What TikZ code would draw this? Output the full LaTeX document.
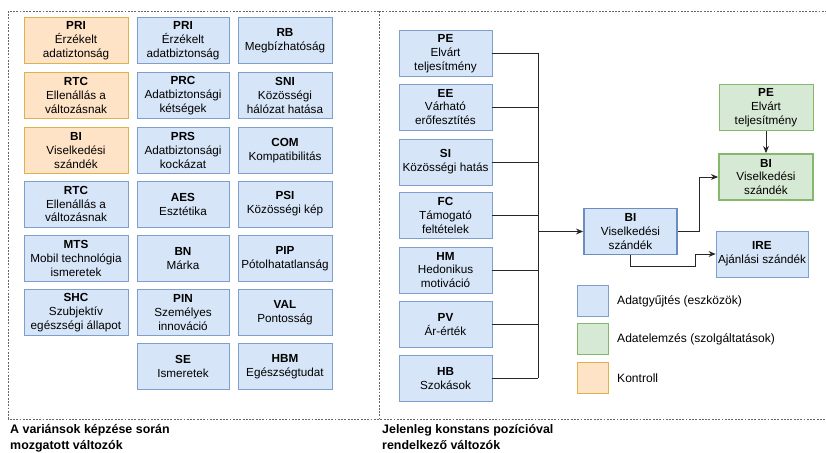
\documentclass[tikz,border=0pt]{standalone}
\usepackage{fontspec}
\setmainfont{Liberation Sans}
\usetikzlibrary{arrows.meta,positioning}

\definecolor{blueFill}{HTML}{D6E5F7}
\definecolor{blueLine}{HTML}{7E9FCB}
\definecolor{blueDark}{HTML}{6C8EBF}
\definecolor{orangeFill}{HTML}{FFE3C6}
\definecolor{orangeLine}{HTML}{E0B24E}
\definecolor{greenFill}{HTML}{D6E9D4}
\definecolor{greenLine}{HTML}{86B86C}
\definecolor{frameGray}{HTML}{666666}

\begin{document}
\begin{tikzpicture}[x=0.03cm, y=-0.03cm, >={Stealth[length=6pt,width=5pt]},
    box/.style={draw=blueLine, fill=blueFill, align=center, inner sep=0pt,
        minimum height=1.38cm, line width=0.6pt,
        font=\fontsize{10}{11.9}\selectfont},
    ctrl/.style={box, draw=orangeLine, fill=orangeFill},
    anal/.style={box, draw=greenLine, fill=greenFill},
    colA/.style={minimum width=3.12cm},
    colB/.style={minimum width=2.76cm},
    colC/.style={minimum width=2.82cm},
    colR/.style={minimum width=2.79cm},
    frame/.style={frameGray, line width=0.6pt, dash pattern=on 1.6pt off 1.2pt},
    caption/.style={align=left, inner sep=0pt, font=\fontsize{10.6}{14.2}\selectfont\bfseries},
    legbox/.style={draw=#1Line, fill=#1Fill, minimum width=0.93cm, minimum height=0.95cm,
        inner sep=0pt, line width=0.6pt},
    legtext/.style={anchor=west, inner sep=0pt, font=\fontsize{10.3}{12}\selectfont},
    link/.style={line width=0.7pt, black!85}]
    \useasboundingbox (0,0) rectangle (826,453);

    % frames
    \draw[frame] (379,11) -- (8,11) -- (8,419) -- (826,419);
    \draw[frame] (379,11) -- (826,11);
    \draw[frame] (379,11) -- (379,419);

    \node[caption, anchor=north west] (capL) at (10,424)
        {A variánsok képzése során\\mozgatott változók};
    \node[caption, anchor=north west] (capR) at (382,424)
        {Jelenleg konstans pozícióval\\rendelkező változók};

    % left block, first column
    \node[ctrl, colA] (priC) at (76,40.5) {\textbf{PRI}\\Érzékelt\\adatiztonság};
    \node[ctrl, colA] (rtcC) at (76,95.5) {\textbf{RTC}\\Ellenállás a\\változásnak};
    \node[ctrl, colA] (biC) at (76,150.5) {\textbf{BI}\\Viselkedési\\szándék};
    \node[box, colA] (rtc) at (76,204) {\textbf{RTC}\\Ellenállás a\\változásnak};
    \node[box, colA] (mts) at (76,258.5) {\textbf{MTS}\\Mobil technológia\\ismeretek};
    \node[box, colA] (shc) at (76,312.5) {\textbf{SHC}\\Szubjektív\\egészségi állapot};

    % second column
    \node[box, colB] (pri) at (183,40.5) {\textbf{PRI}\\Érzékelt\\adatbiztonság};
    \node[box, colB] (prc) at (183,95.5) {\textbf{PRC}\\Adatbiztonsági\\kétségek};
    \node[box, colB] (prs) at (183,150.5) {\textbf{PRS}\\Adatbiztonsági\\kockázat};
    \node[box, colB] (aes) at (183,204) {\textbf{AES}\\Esztétika};
    \node[box, colB] (bn) at (183,258.5) {\textbf{BN}\\Márka};
    \node[box, colB] (pin) at (183,312.5) {\textbf{PIN}\\Személyes\\innováció};
    \node[box, colB] (se) at (183,366.5) {\textbf{SE}\\Ismeretek};

    % third column
    \node[box, colC] (rb) at (285,40.5) {\textbf{RB}\\Megbízhatóság};
    \node[box, colC] (sni) at (285,95.5) {\textbf{SNI}\\Közösségi\\hálózat hatása};
    \node[box, colC] (com) at (285,150.5) {\textbf{COM}\\Kompatibilitás};
    \node[box, colC] (psi) at (285,204) {\textbf{PSI}\\Közösségi kép};
    \node[box, colC] (pip) at (285,258.5) {\textbf{PIP}\\Pótolhatatlanság};
    \node[box, colC] (val) at (285,312.5) {\textbf{VAL}\\Pontosság};
    \node[box, colC] (hbm) at (285,366.5) {\textbf{HBM}\\Egészségtudat};

    % right block, inputs
    \node[box, colR] (pe) at (445.5,53.5) {\textbf{PE}\\Elvárt\\teljesítmény};
    \node[box, colR] (ee) at (445.5,107) {\textbf{EE}\\Várható\\erőfesztítés};
    \node[box, colR] (si) at (445.5,162) {\textbf{SI}\\Közösségi hatás};
    \node[box, colR] (fc) at (445.5,215.5) {\textbf{FC}\\Támogató\\feltételek};
    \node[box, colR] (hm) at (445.5,270) {\textbf{HM}\\Hedonikus\\motiváció};
    \node[box, colR] (pv) at (445.5,324.5) {\textbf{PV}\\Ár-érték};
    \node[box, colR] (hb) at (445.5,378.5) {\textbf{HB}\\Szokások};

    \node[box, colR, draw=blueDark, line width=1.6pt] (bi) at (630.5,231.5)
        {\textbf{BI}\\Viselkedési\\szándék};
    \node[anal, colC] (gpe) at (766,107.5) {\textbf{PE}\\Elvárt\\teljesítmény};
    \node[anal, colC, line width=1.6pt] (gbi) at (766,177) {\textbf{BI}\\Viselkedési\\szándék};
    \node[box, colB] (ire) at (762,254) {\textbf{IRE}\\Ajánlási szándék};

    % bus
    \coordinate (bus) at (538,0);
    \foreach \n in {pe,ee,si,fc,hm,pv,hb}
        \draw[link] (\n.east) -- (\n.east -| bus);
    \draw[link] (pe.east -| bus) -- (hb.east -| bus);
    \draw[link, ->] (bi.west -| bus) -- (bi.west);

    \draw[link, ->] (bi.east) -- ++(21,0) |- (gbi.west);
    \draw[link, ->] (bi.south) -- ++(0,11) -- ++(65,0) |- (ire.west);
    \draw[link, ->] (gpe.south) -- (gbi.north);

    % legend
    \node[legbox=blue] (legA) at (592.5,301) {};
    \node[legbox=green] (legB) at (592.5,339) {};
    \node[legbox=orange] (legC) at (592.5,378) {};
    \node[legtext] (legAtxt) at (617,301) {Adatgyűjtés (eszközök)};
    \node[legtext] (legBtxt) at (617,339) {Adatelemzés (szolgáltatások)};
    \node[legtext] (legCtxt) at (617,378) {Kontroll};
\end{tikzpicture}
\end{document}
